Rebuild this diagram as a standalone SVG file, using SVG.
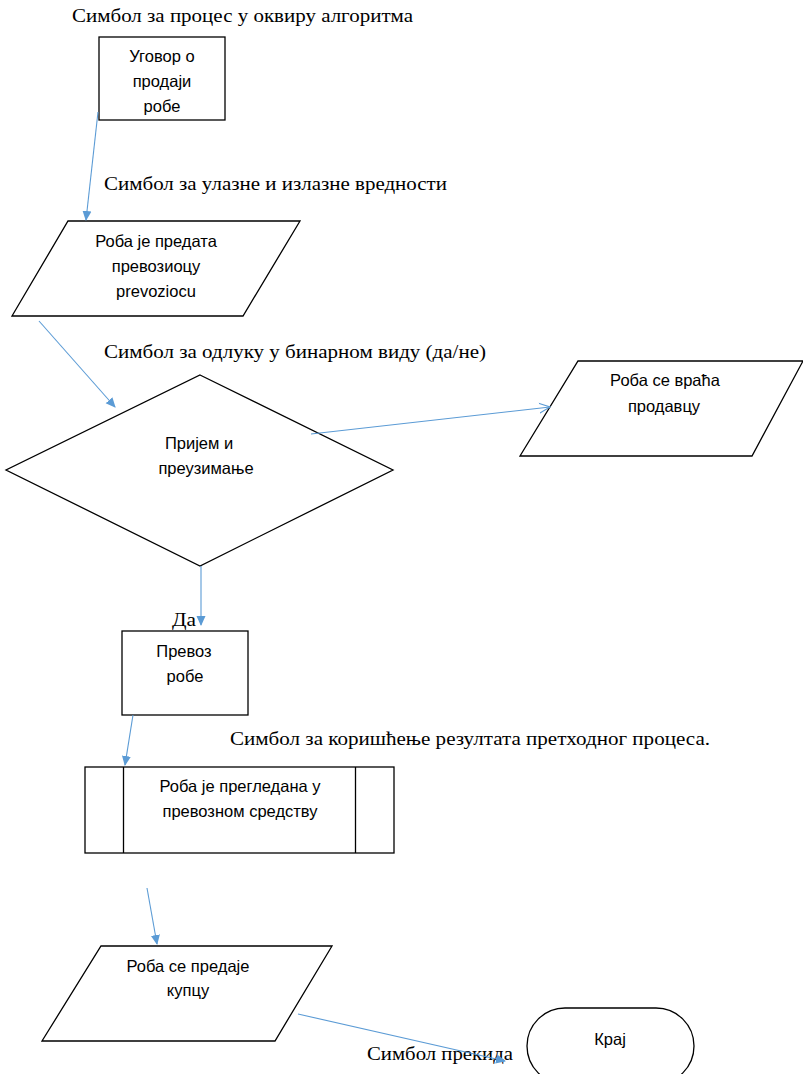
<svg xmlns="http://www.w3.org/2000/svg" width="803" height="1074" viewBox="0 0 803 1074">
<style>
.shape{fill:#fff;stroke:#000;stroke-width:1.3}
.conn{fill:none;stroke:#5B9BD5;stroke-width:1.1}
.lbl{font-family:"Liberation Serif","Times New Roman",serif;font-size:19px;fill:#000}
.t{font-family:"Liberation Sans",Arial,sans-serif;font-size:16.5px;fill:#000;text-anchor:middle}
</style>
<defs>
<marker id="fill" viewBox="0 0 10 10" refX="9" refY="5" markerWidth="10" markerHeight="10" markerUnits="userSpaceOnUse" orient="auto">
<path d="M0,0.5 L10,5 L0,9.5 z" fill="#5B9BD5"/>
</marker>
<marker id="open" viewBox="0 0 12 12" refX="11" refY="6" markerWidth="12" markerHeight="12" markerUnits="userSpaceOnUse" orient="auto">
<path d="M0,1 L11,6 L0,11" fill="none" stroke="#5B9BD5" stroke-width="1.1"/>
</marker>
</defs>
<rect width="803" height="1074" fill="#fff"/>

<g id="labels">
<text class="lbl" x="72" y="22" textLength="341" lengthAdjust="spacingAndGlyphs">Симбол за процес у оквиру алгоритма</text>
<text class="lbl" x="104" y="190" textLength="343" lengthAdjust="spacingAndGlyphs">Симбол за улазне и излазне вредности</text>
<text class="lbl" x="104" y="358" textLength="382" lengthAdjust="spacingAndGlyphs">Симбол за одлуку у бинарном виду (да/не)</text>
<text class="lbl" x="172" y="626" textLength="24" lengthAdjust="spacingAndGlyphs">Да</text>
<text class="lbl" x="230" y="745" textLength="480" lengthAdjust="spacingAndGlyphs">Симбол за коришћење резултата претходног процеса.</text>
<text class="lbl" x="367" y="1060" textLength="146" lengthAdjust="spacingAndGlyphs">Симбол прекида</text>
</g>

<g id="n1">
<rect class="shape" x="99" y="37" width="126" height="83"/>
<text class="t" x="162" y="62">Уговор о</text>
<text class="t" x="162" y="87">продаји</text>
<text class="t" x="162" y="112">робе</text>
</g>

<g id="n2">
<polygon class="shape" points="68,221 300,221 243,316 12,316"/>
<text class="t" x="156" y="247">Роба је предата</text>
<text class="t" x="156" y="272">превозиоцу</text>
<text class="t" x="156" y="297">prevoziocu</text>
</g>

<g id="n3">
<polygon class="shape" points="200,375 393,470 200,566 6,470"/>
<text class="t" x="199" y="449">Пријем и</text>
<text class="t" x="206" y="474">преузимање</text>
</g>

<g id="n4">
<polygon class="shape" points="578,361 803,361 752,456 520,456"/>
<text class="t" x="665" y="386">Роба се враћа</text>
<text class="t" x="664" y="412">продавцу</text>
</g>

<g id="n5">
<rect class="shape" x="122" y="631" width="126" height="84"/>
<text class="t" x="184" y="657">Превоз</text>
<text class="t" x="185" y="682">робе</text>
</g>

<g id="n6">
<rect class="shape" x="85" y="767" width="309" height="86"/>
<line class="shape" x1="123.5" y1="767" x2="123.5" y2="853"/>
<line class="shape" x1="355.5" y1="767" x2="355.5" y2="853"/>
<text class="t" x="240" y="792">Роба је прегледана у</text>
<text class="t" x="240" y="817">превозном средству</text>
</g>

<g id="n7">
<polygon class="shape" points="101,946 332,946 275,1041 42,1041"/>
<text class="t" x="188" y="972">Роба се предаје</text>
<text class="t" x="188" y="996">купцу</text>
</g>

<g id="n8">
<rect class="shape" x="527" y="1008" width="167" height="76" rx="38" ry="38"/>
<text class="t" x="610" y="1045">Крај</text>
</g>

<g id="connectors">
<line class="conn" x1="98" y1="112" x2="86" y2="220" marker-end="url(#fill)"/>
<line class="conn" x1="39" y1="321" x2="115" y2="407" marker-end="url(#fill)"/>
<line class="conn" x1="311" y1="434" x2="550" y2="407" marker-end="url(#open)"/>
<line class="conn" x1="201" y1="566" x2="201" y2="625" marker-end="url(#fill)"/>
<line class="conn" x1="133" y1="715" x2="125" y2="765" marker-end="url(#fill)"/>
<line class="conn" x1="147" y1="888" x2="157" y2="944" marker-end="url(#fill)"/>
<line class="conn" x1="298" y1="1014" x2="505" y2="1061" marker-end="url(#fill)"/>
</g>
</svg>
